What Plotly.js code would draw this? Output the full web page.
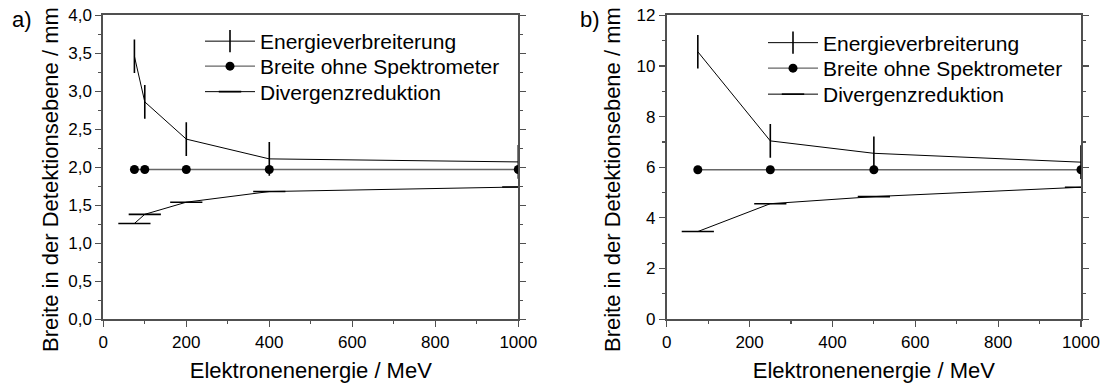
<!DOCTYPE html>
<html>
<head>
<meta charset="utf-8">
<script src="https://cdn.plot.ly/plotly-3.0.1.min.js"></script>
<style>html,body{margin:0;padding:0;background:#fff}#chart{width:1107px;height:383px}</style>
</head>
<body>
<div id="chart"></div>
<script>
// ---- Data (panel a) ----
const energyA = [75, 100, 200, 400, 1000];
const energieVerbA = [3.46, 2.86, 2.37, 2.11, 2.07];
const breiteOhneA = [1.97, 1.97, 1.97, 1.97, 1.97];
const divergenzA = [1.26, 1.38, 1.54, 1.68, 1.74];
// ---- Data (panel b) ----
const energyB = [75, 250, 500, 1000];
const energieVerbB = [10.56, 7.04, 6.55, 6.2];
const breiteOhneB = [5.9, 5.9, 5.9, 5.9];
const divergenzB = [3.46, 4.56, 4.84, 5.21];

const seriesNames = ["Energieverbreiterung", "Breite ohne Spektrometer", "Divergenzreduktion"];
const xTitle = "Elektronenenergie / MeV";
const yTitle = "Breite in der Detektionsebene / mm";
const panelLabels = ["a)", "b)"];

const FONT = "Liberation Sans, Arial, sans-serif";
const AX = "#505050";
const W = 1107, H = 383;

function traces(x, e, b, d, xa, ya, legs) {
  return [
    {x: x, y: e, name: seriesNames[0], xaxis: xa, yaxis: ya, legend: legs[0], mode: "lines+markers",
     line: {color: "#000", width: 1},
     marker: {symbol: "line-ns-open", size: 24, color: "#000", line: {color: "#000", width: 1.6}}},
    {x: x, y: b, name: seriesNames[1], xaxis: xa, yaxis: ya, legend: legs[1], mode: "lines+markers",
     line: {color: "#666", width: 1.3},
     marker: {symbol: "circle", size: 9, color: "#000"}},
    {x: x, y: d, name: seriesNames[2], xaxis: xa, yaxis: ya, legend: legs[2], mode: "lines+markers",
     line: {color: "#000", width: 1},
     marker: {symbol: "line-ew-open", size: 23, color: "#000", line: {color: "#000", width: 1.6}}}
  ];
}

const data = [].concat(
  traces(energyA, energieVerbA, breiteOhneA, divergenzA, "x", "y", ["legend", "legend2", "legend3"]),
  traces(energyB, energieVerbB, breiteOhneB, divergenzB, "x2", "y2", ["legend4", "legend5", "legend6"])
);

const yDom = [0.1666, 0.9601];
function xax(dom, anchor) {
  return {domain: dom, anchor: anchor, range: [0, 1000], dtick: 200, tick0: 0,
    showline: true, linecolor: AX, linewidth: 2, mirror: true, zeroline: false, showgrid: false,
    ticks: "outside", ticklen: 6, tickwidth: 1.2, tickcolor: AX,
    minor: {dtick: 100, ticks: "outside", ticklen: 3, tickcolor: AX, tickwidth: 1.2, showgrid: false},
    tickfont: {family: FONT, size: 17, color: "#000"},
    title: {text: xTitle, font: {family: FONT, size: 22, color: "#000"}, standoff: 12}};
}
function xtop(over, anchor) {
  return {overlaying: over, anchor: anchor, side: "top", range: [0, 1000], dtick: 200, tick0: 0,
    showline: false, showticklabels: false, zeroline: false, showgrid: false,
    ticks: "inside", ticklen: 6, tickwidth: 1.2, tickcolor: AX,
    minor: {dtick: 100, ticks: "inside", ticklen: 3, tickcolor: AX, tickwidth: 1.2, showgrid: false}};
}
function yax(anchor, range, dtick, minorD, fmt) {
  return {domain: yDom, anchor: anchor, range: range, dtick: dtick, tick0: 0, tickformat: fmt,
    showline: true, linecolor: AX, linewidth: 2, mirror: "ticks", zeroline: false, showgrid: false,
    ticks: "outside", ticklen: 6, tickwidth: 1.2, tickcolor: AX,
    minor: {dtick: minorD, ticks: "outside", ticklen: 3, tickcolor: AX, tickwidth: 1.2, showgrid: false},
    tickfont: {family: FONT, size: 17, color: "#000"}};
}

function leg(xpx, ypx) {
  return {x: xpx / W, y: 1 - ypx / H, xanchor: "left", yanchor: "middle", bgcolor: "rgba(0,0,0,0)", borderwidth: 0,
    font: {family: FONT, size: 21, color: "#000"}, itemwidth: 50, tracegroupgap: 0};
}

function ann(text, xpx, ypx, angle) {
  return {text: text, xref: "paper", yref: "paper", x: xpx / W, y: 1 - ypx / H, xanchor: "center", yanchor: "middle",
    textangle: angle || 0, showarrow: false, font: {family: FONT, size: 22, color: "#000"}};
}

const layout = {
  width: W, height: H,
  margin: {l: 0, r: 0, t: 0, b: 0},
  paper_bgcolor: "#fff", plot_bgcolor: "#fff",
  separators: ",.",
  font: {family: FONT, color: "#000"},
  showlegend: true,
  xaxis: xax([0.0933, 0.4682], "y"),
  yaxis: yax("x", [0, 4], 0.5, 0.25, ".1f"),
  xaxis2: xax([0.6023, 0.9765], "y2"),
  yaxis2: yax("x2", [0, 12], 2, 1, "d"),
  xaxis3: xtop("x", "y"),
  xaxis4: xtop("x2", "y2"),
  legend: leg(200, 41.5),
  legend2: leg(200, 66.5),
  legend3: leg(200, 92),
  legend4: leg(763, 43),
  legend5: leg(763, 68.5),
  legend6: leg(763, 94.5),
  annotations: [
    ann(panelLabels[0], 22, 19),
    ann(panelLabels[1], 590, 19),
    ann(yTitle, 50, 180, -90),
    ann(yTitle, 612, 180, -90)
  ]
};

Plotly.newPlot("chart", data, layout, {displayModeBar: false, staticPlot: true});
</script>
</body>
</html>
